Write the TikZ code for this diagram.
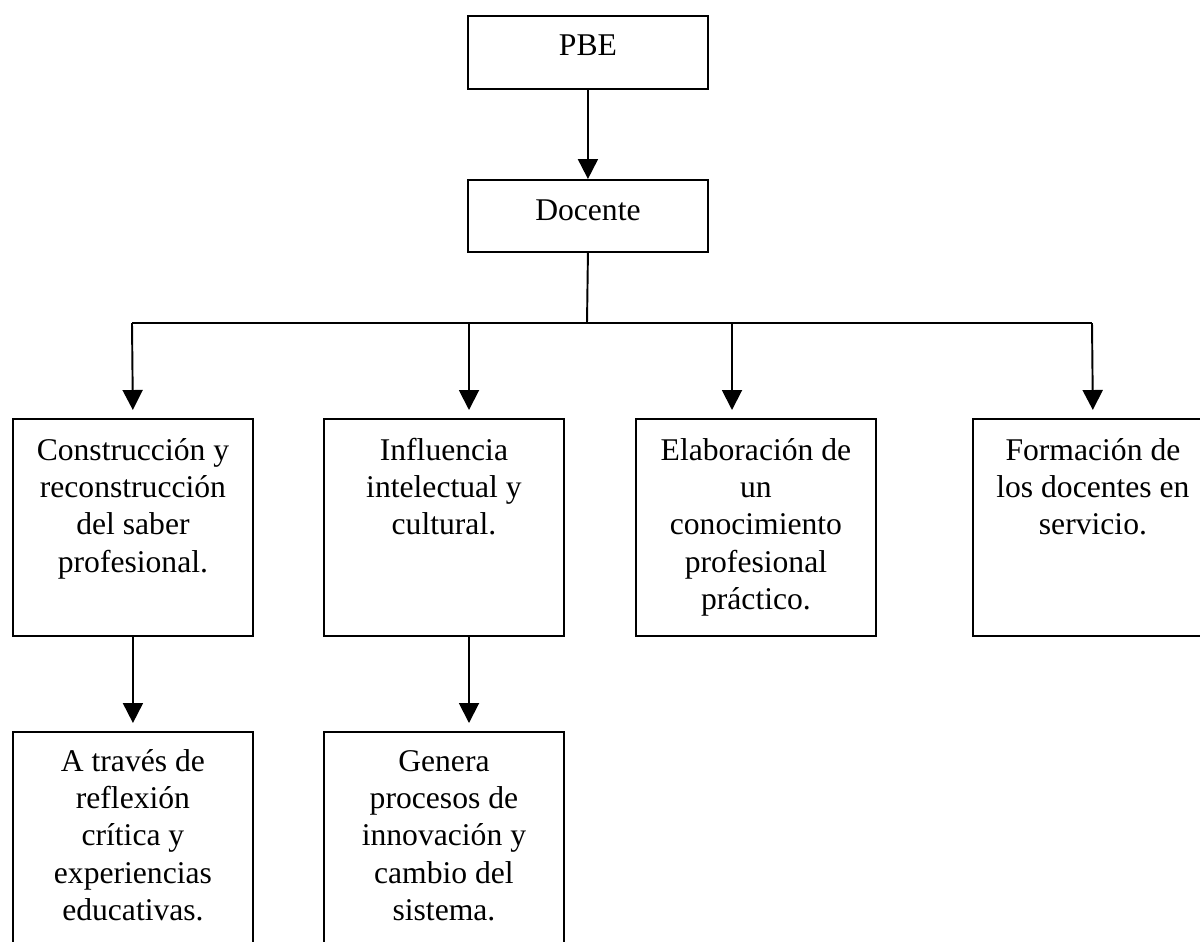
\documentclass[tikz,border=0pt]{standalone}
\usepackage{fontspec}
\setmainfont{Liberation Serif}
\usetikzlibrary{arrows.meta}
\def\celda#1{\parbox[t]{4.6cm}{\centering\fontsize{18}{21.3}\selectfont #1}}

\begin{document}
\begin{tikzpicture}[x=0.02cm,y=-0.02cm,
	caja/.style={draw, line width=1.1pt, anchor=north west, inner sep=0pt, minimum width=4.8cm},
	texto/.style={anchor=base, inner sep=0pt},
	linea/.style={line width=1.1pt},
	flecha/.style={line width=1.1pt, -{Triangle[length=0.4cm,width=0.4cm]}, shorten >=0.16cm}]
		\useasboundingbox (0,0) rectangle (1200,941);
		\clip (0,0) rectangle (1200,941);
		%%%%% CAJAS %%%%%
		\node[caja, minimum height=1.46cm] (pbe) at (467,15) {};
		\node[caja, minimum height=1.44cm] (doc) at (467,179) {};
		
		\node[caja, minimum height=4.34cm] (b1) at (12,418) {};
		\node[caja, minimum height=4.34cm] (b2) at (323,418) {};
		\node[caja, minimum height=4.34cm] (b3) at (635,418) {};
		\node[caja, minimum height=4.34cm] (b4) at (972,418) {};
		
		\node[caja, minimum height=4.6cm] (b5) at (12,731) {};
		\node[caja, minimum height=4.6cm] (b6) at (323,731) {};
		
		%%%%% TEXTOS %%%%%
		\node[texto] (t0) at ([yshift=-0.82cm]pbe.north) {\celda{PBE}};
		\node[texto] (td) at ([yshift=-0.82cm]doc.north) {\celda{Docente}};
		\node[texto] (t1) at ([yshift=-0.84cm]b1.north) {\celda{Construcción y\\reconstrucción\\del saber\\profesional.}};
		\node[texto] (t2) at ([yshift=-0.84cm]b2.north) {\celda{Influencia\\intelectual y\\cultural.}};
		\node[texto] (t3) at ([yshift=-0.84cm]b3.north) {\celda{Elaboración de\\un\\conocimiento\\profesional\\práctico.}};
		\node[texto] (t4) at ([yshift=-0.84cm]b4.north) {\celda{Formación de\\los docentes en\\servicio.}};
		\node[texto] (t5) at ([yshift=-0.8cm]b5.north) {\celda{A través de\\reflexión\\crítica y\\experiencias\\educativas.}};
		\node[texto] (t6) at ([yshift=-0.8cm]b6.north) {\celda{Genera\\procesos de\\innovación y\\cambio del\\sistema.}};
		
		%%%%% CONECTORES %%%%%
		\coordinate (j) at (587,323);
		\coordinate (a1) at (132,323);
		\coordinate (a2) at (469,323);
		\coordinate (a3) at (732,323);
		\coordinate (a4) at (1092,323);
		
		\draw[flecha, shorten >=0pt] (pbe) -- (doc);
		\draw[linea] (doc.south) -- (j);
		\draw[linea] (a1) -- (a4);
		\draw[flecha] (a1) -- (b1.north);
		\draw[flecha] (a2) -- (a2 |- b2.north);
		\draw[flecha] (a3) -- (a3 |- b3.north);
		\draw[flecha] (a4) -- (b4.north);
		
		\draw[flecha] (b1.south) -- (b5.north);
		\draw[flecha] (a2 |- b2.south) -- (a2 |- b6.north);
	\end{tikzpicture}
\end{document}
